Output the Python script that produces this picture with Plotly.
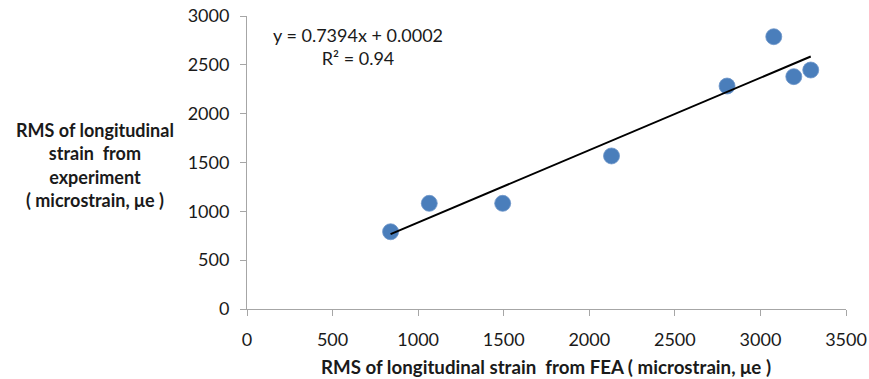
import numpy as np
import plotly.graph_objects as go

# Data
fea_strain = [839, 1065, 1494, 2130, 2805, 3078, 3195, 3294]
exp_strain = [791, 1082, 1082, 1567, 2283, 2788, 2379, 2447]

x_ticks = [0, 500, 1000, 1500, 2000, 2500, 3000, 3500]
y_ticks = [0, 500, 1000, 1500, 2000, 2500, 3000]

x_title = "RMS of longitudinal strain  from FEA ( microstrain, \u03bce )"
y_title = "RMS of longitudinal<br>strain  from<br>experiment<br>( microstrain, \u03bce )"
eq_text = "y = 0.7394x + 0.0002<br>R\u00b2 = 0.94"

# Linear trendline (least squares) over data range
slope, intercept = np.polyfit(fea_strain, exp_strain, 1)
trend_x = [min(fea_strain), max(fea_strain)]
trend_y = [slope * v + intercept for v in trend_x]

FONT = "Lato, 'Open Sans', sans-serif"
TXT = "#1a1a1a"
AX = "#a6a6a6"
FS = 18

fig = go.Figure()
fig.add_trace(go.Scatter(
    x=fea_strain, y=exp_strain, mode="markers",
    marker=dict(size=16, color="#4a7ebb", line=dict(width=0.8, color="#6d96c9")),
    showlegend=False, hoverinfo="x+y",
))
fig.add_trace(go.Scatter(
    x=trend_x, y=trend_y, mode="lines",
    line=dict(color="#000000", width=2),
    showlegend=False, hoverinfo="skip",
))

fig.update_layout(
    width=869, height=379,
    margin=dict(l=247, r=23, t=16, b=70, autoexpand=False),
    paper_bgcolor="white", plot_bgcolor="white",
    font=dict(family=FONT, size=FS, color=TXT),
    xaxis=dict(
        range=[0, 3500], tickvals=x_ticks, ticktext=[str(v) for v in x_ticks],
        showline=True, linecolor=AX, linewidth=1,
        ticks="outside", ticklen=6, tickcolor=AX, tickwidth=1,
        showgrid=False, zeroline=False, automargin=False,
        tickfont=dict(family=FONT, size=FS, color=TXT),
        ticklabelstandoff=8,
    ),
    yaxis=dict(
        range=[0, 3000], tickvals=y_ticks, ticktext=[str(v) for v in y_ticks],
        showline=True, linecolor=AX, linewidth=1,
        ticks="outside", ticklen=6, tickcolor=AX, tickwidth=1,
        showgrid=False, zeroline=False, automargin=False,
        tickfont=dict(family=FONT, size=FS, color=TXT),
        ticklabelstandoff=7,
    ),
    annotations=[
        dict(text=x_title, xref="paper", yref="paper", x=0.499, y=-0.198,
             xanchor="center", yanchor="middle", showarrow=False,
             font=dict(family=FONT, size=18.7, color=TXT, weight="bold")),
        dict(text=y_title, xref="paper", yref="paper", x=0, xshift=-152,
             y=0.49, xanchor="center", yanchor="middle", align="center",
             showarrow=False,
             font=dict(family=FONT, size=FS, color=TXT, weight="bold")),
        dict(text=eq_text, xref="paper", yref="paper", x=0, xshift=111,
             y=1, yshift=-30, xanchor="center", yanchor="middle", align="center",
             showarrow=False,
             font=dict(family=FONT, size=FS, color=TXT)),
    ],
)

# remove the default 8px page margin so the figure fills the window exactly
fig.write_html("out.html", config={"displayModeBar": False},
               post_script="document.body.style.margin='0';")
